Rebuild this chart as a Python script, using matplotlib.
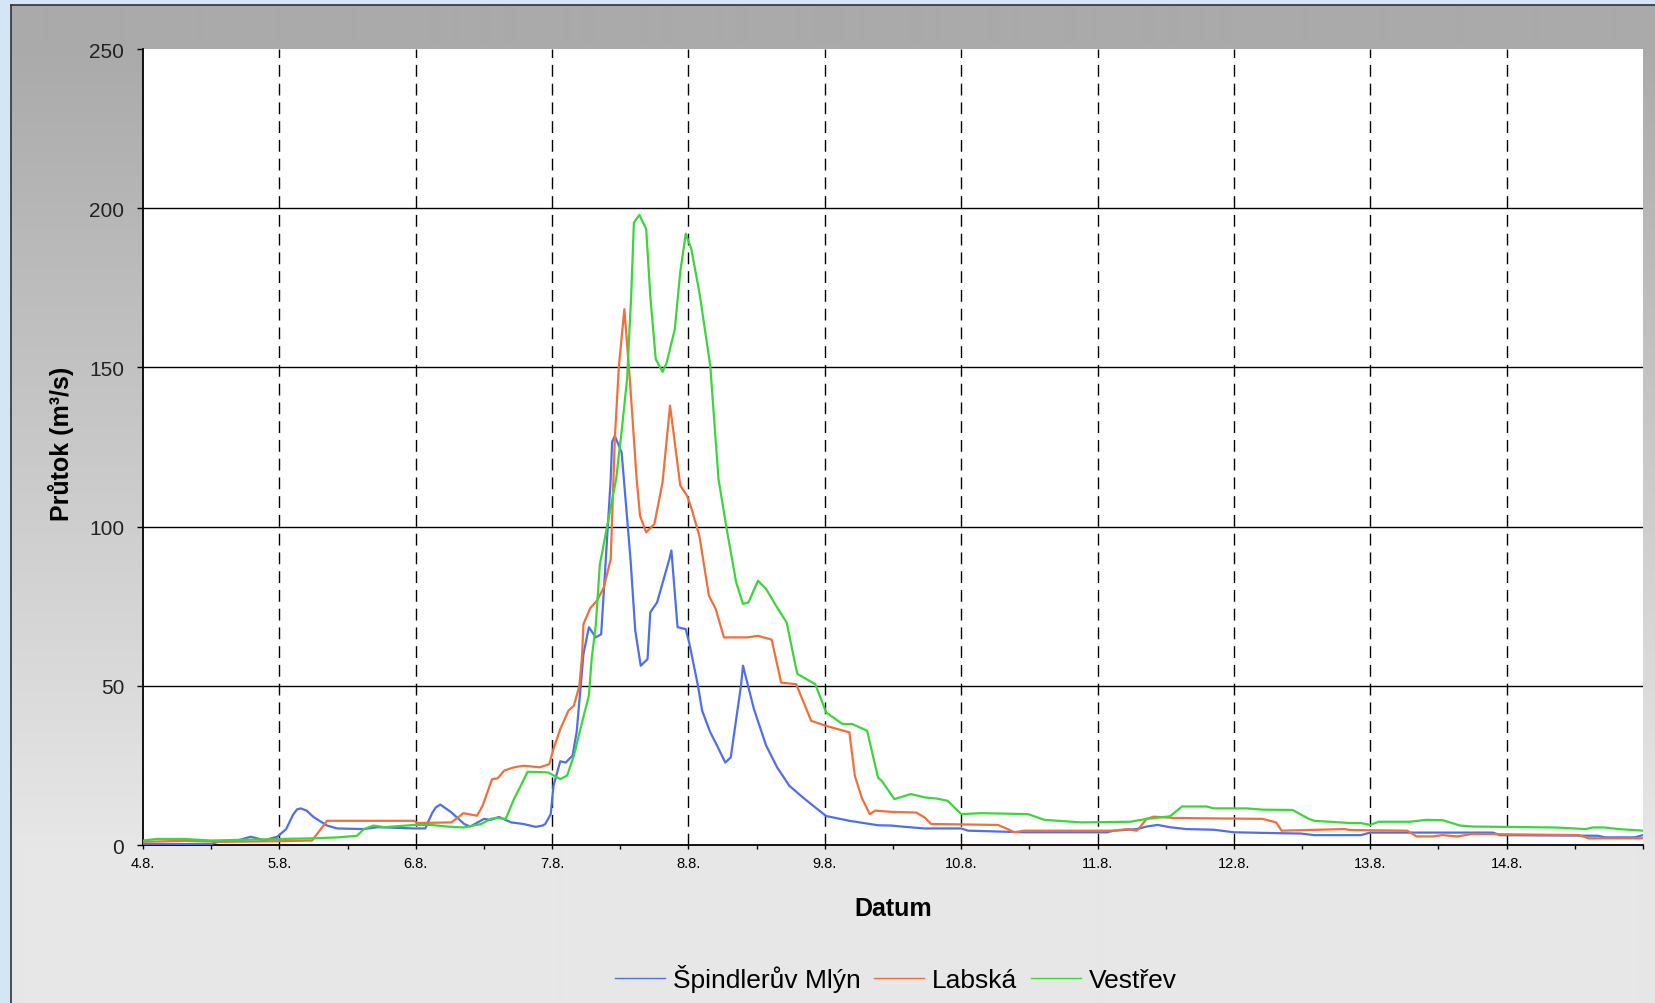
import numpy as np
import matplotlib
matplotlib.use("Agg")
import matplotlib.pyplot as plt
from matplotlib import font_manager

# Hydrograph, flood of August: discharge at three gauges on the upper Labe.
# Time is given as day of August (4.0 = 4.8. 00:00).

spindl_t = [4.00, 4.50, 4.55, 4.70, 4.79, 4.89, 4.985, 5.05, 5.10, 5.13, 5.156, 5.20,
            5.25, 5.35, 5.425, 5.62, 5.72, 5.99, 6.07, 6.12, 6.147, 6.18, 6.22, 6.26,
            6.355, 6.40, 6.50, 6.55, 6.61, 6.70, 6.79, 6.88, 6.93, 6.95, 6.99, 7.01,
            7.06, 7.10, 7.15, 7.18, 7.21, 7.23, 7.27, 7.32, 7.36, 7.40, 7.43, 7.44,
            7.46, 7.51, 7.575, 7.61, 7.65, 7.70, 7.72, 7.77, 7.86, 7.875, 7.92, 7.98,
            8.005, 8.07, 8.10, 8.16, 8.21, 8.27, 8.31, 8.385, 8.40, 8.48, 8.57, 8.65,
            8.74, 8.84, 8.93, 9.01, 9.18, 9.39, 9.49, 9.56, 9.73, 10.00, 10.05, 10.46,
            11.07, 11.12, 11.29, 11.36, 11.44, 11.53, 11.65, 11.85, 12.00, 12.34, 12.49,
            12.59, 12.93, 13.00, 13.90, 13.95, 14.67, 14.72, 14.94, 15.00]
spindl_q = [0.3, 0.3, 1.0, 1.5, 2.6, 1.5, 2.6, 5.0, 9.5, 11.2, 11.5, 10.8,
            8.8, 6.1, 5.2, 5.0, 5.6, 5.2, 5.2, 10.0, 11.8, 12.7, 11.5, 10.3,
            6.6, 5.8, 8.2, 7.9, 8.8, 7.1, 6.6, 5.7, 6.1, 6.6, 9.7, 18.6,
            26.3, 25.9, 28.1, 35.4, 50.0, 60.0, 68.4, 65.2, 66.2, 94.0, 115.0, 126.6,
            128.5, 123.3, 89.8, 67.3, 56.3, 58.4, 73.1, 76.2, 89.8, 92.5, 68.4, 67.8,
            63.6, 50.0, 42.2, 35.4, 31.2, 25.9, 27.5, 50.0, 56.3, 42.7, 31.2, 24.4,
            18.6, 14.9, 11.8, 9.1, 7.6, 6.2, 6.1, 5.8, 5.2, 5.2, 4.5, 4.0,
            4.0, 4.5, 5.0, 5.8, 6.3, 5.6, 5.0, 4.8, 4.0, 3.7, 3.6,
            3.1, 3.1, 3.9, 3.9, 3.1, 2.9, 2.4, 2.4, 3.1]

labska_t = [4.00, 4.30, 4.60, 5.00, 5.24, 5.35, 5.99, 6.01, 6.26, 6.32, 6.35, 6.45,
            6.49, 6.56, 6.60, 6.65, 6.72, 6.79, 6.84, 6.91, 6.98, 7.01, 7.06, 7.12,
            7.16, 7.20, 7.22, 7.23, 7.28, 7.33, 7.38, 7.43, 7.46, 7.49, 7.53, 7.57,
            7.62, 7.645, 7.69, 7.75, 7.81, 7.865, 7.94, 7.99, 8.02, 8.08, 8.15, 8.20,
            8.26, 8.43, 8.51, 8.61, 8.68, 8.79, 8.90, 9.01, 9.18, 9.22, 9.27, 9.33,
            9.37, 9.49, 9.67, 9.73, 9.78, 10.27, 10.34, 10.39, 10.46, 11.12, 11.22,
            11.29, 11.36, 11.41, 11.56, 12.21, 12.31, 12.35, 12.81, 12.85, 13.27, 13.34,
            13.46, 13.53, 13.64, 13.75, 14.53, 14.60, 15.00]
labska_q = [1.0, 1.3, 1.0, 1.2, 1.4, 7.6, 7.6, 6.9, 7.1, 9.0, 10.0, 9.2,
            12.3, 20.7, 20.9, 23.4, 24.4, 24.9, 24.7, 24.4, 25.4, 30.2, 36.4, 42.2,
            43.8, 50.0, 59.5, 69.4, 74.4, 76.8, 81.0, 89.8, 127.5, 150.5, 168.3, 146.3,
            115.0, 103.4, 98.2, 100.8, 113.9, 138.0, 112.9, 109.7, 106.0, 97.1, 78.3, 74.1,
            65.2, 65.2, 65.7, 64.5, 51.0, 50.5, 39.0, 37.4, 35.4, 21.8, 14.9, 9.7,
            10.8, 10.4, 10.2, 8.7, 6.6, 6.3, 5.0, 4.0, 4.5, 4.5, 5.0,
            4.5, 8.2, 8.9, 8.5, 8.2, 7.1, 4.5, 5.0, 4.7, 4.5, 2.7,
            2.7, 3.1, 2.7, 3.5, 3.1, 2.1, 2.1]

vestrev_t = [4.00, 4.10, 4.30, 4.50, 4.80, 5.25, 5.43, 5.57, 5.62, 5.69, 5.77, 5.99,
             6.11, 6.23, 6.35, 6.48, 6.55, 6.60, 6.66, 6.72, 6.77, 6.82, 6.97, 7.06,
             7.11, 7.16, 7.22, 7.27, 7.29, 7.32, 7.35, 7.40, 7.47, 7.51, 7.55, 7.58,
             7.60, 7.64, 7.69, 7.72, 7.76, 7.81, 7.84, 7.90, 7.94, 7.98, 8.02, 8.08,
             8.16, 8.22, 8.28, 8.35, 8.40, 8.44, 8.51, 8.57, 8.65, 8.72, 8.79, 8.80,
             8.93, 9.01, 9.13, 9.20, 9.31, 9.39, 9.42, 9.51, 9.63, 9.74, 9.82, 9.90,
             10.00, 10.15, 10.49, 10.61, 10.88, 11.24, 11.36, 11.53, 11.62, 11.80, 11.85,
             12.09, 12.21, 12.43, 12.55, 12.59, 12.85, 12.93, 13.00, 13.06, 13.29, 13.41,
             13.53, 13.66, 13.75, 14.36, 14.58, 14.63, 14.72, 14.82, 15.00]
vestrev_q = [1.4, 1.9, 1.9, 1.4, 1.7, 2.1, 2.4, 2.9, 5.0, 6.1, 5.6, 6.3,
             6.3, 5.8, 5.5, 6.6, 8.2, 8.5, 8.2, 14.4, 18.6, 23.0, 22.8, 20.7,
             21.8, 28.1, 38.6, 46.9, 58.4, 68.9, 88.0, 99.3, 115.0, 130.0, 146.4, 172.5,
             195.5, 197.9, 193.5, 172.5, 152.6, 148.6, 151.5, 162.0, 180.0, 192.0, 187.3, 173.6,
             150.5, 115.0, 99.3, 82.5, 75.7, 76.2, 83.0, 80.4, 74.6, 69.9, 55.3, 53.7,
             50.5, 41.6, 38.0, 38.0, 35.9, 21.2, 20.0, 14.4, 16.0, 14.9, 14.6, 13.9,
             9.7, 10.0, 9.7, 7.9, 7.1, 7.3, 8.2, 9.0, 12.1, 12.1, 11.5,
             11.5, 11.1, 11.0, 8.2, 7.6, 6.9, 6.9, 6.3, 7.3, 7.3, 7.9,
             7.8, 6.1, 5.8, 5.5, 5.0, 5.5, 5.5, 5.0, 4.5]

series_names = ["Špindlerův Mlýn", "Labská", "Vestřev"]
series_colors = ["#4f6fe6", "#f0703c", "#3ad63a"]
day_ticks = list(range(4, 16))
day_labels = [f"{d}.8." for d in range(4, 15)] + [""]
flow_ticks = [0, 50, 100, 150, 200, 250]

W, H = 1656, 1004
plt.rcParams['font.family'] = ['Liberation Sans', 'DejaVu Sans']

# narrow face for the date labels when available
try:
    font_manager.findfont("Liberation Sans Narrow", fallback_to_default=False)
    xtick_font = dict(family="Liberation Sans Narrow", size=12.5)
except ValueError:
    xtick_font = dict(family="Liberation Sans", size=10.5)

fig = plt.figure(figsize=(W / 100, H / 100), dpi=100)
fig.patch.set_facecolor("#d4e6f6")

# panel background: grey vertical gradient with a dark frame line
bg = fig.add_axes([0, 0, 1, 1], zorder=-5)
bg.set_xlim(0, W)
bg.set_ylim(H, 0)
bg.axis("off")
rows = np.arange(6, H)
shade = 170 + (231 - 170) * np.clip((rows - 45) / (850 - 45), 0, 1)
grad = np.repeat((shade / 255.0)[:, None], 3, axis=1)[:, None, :]
bg.imshow(grad, extent=(11, W, H, 6), aspect="auto", interpolation="bilinear")
bg.plot([11, 11], [H, 6], color="#333333", lw=1.2)
bg.plot([11, W], [6, 6], color="#333333", lw=1.2)

ax = fig.add_axes([143 / W, 1 - 846 / H, 1500 / W, 796 / H])
ax.set_facecolor("white")

for t, q, name, c in zip([spindl_t, labska_t, vestrev_t],
                         [spindl_q, labska_q, vestrev_q],
                         series_names, series_colors):
    ax.plot(t, q, color=c, lw=1.6, label=name, zorder=3)

ax.set_xlim(4, 15)
ax.set_ylim(0, 250)

# grid: solid horizontal, dashed vertical at each day
for v in flow_ticks[1:-1]:
    ax.axhline(v, color="black", lw=1.0, zorder=1)
for d in day_ticks[1:-1]:
    ax.axvline(d, color="black", lw=1.0, dashes=(8.5, 5), zorder=1)

ax.set_xticks(day_ticks)
ax.set_xticklabels(day_labels, fontdict=xtick_font)
ax.set_xticks(np.arange(4.5, 15, 1.0), minor=True)
ax.set_yticks(flow_ticks)
ax.tick_params(axis="x", which="both", length=3, width=1, color="black", pad=5)
ax.tick_params(axis="y", length=4.5, width=1, color="black", pad=9,
               labelsize=15, labelcolor="#222222")

for side in ["top", "right"]:
    ax.spines[side].set_visible(False)
for side in ["left", "bottom"]:
    ax.spines[side].set_linewidth(1.3)
    ax.spines[side].set_color("black")

ax.set_ylabel("Průtok (m³/s)", fontsize=18, fontweight="bold")
ax.yaxis.set_label_coords(-0.046, 0.505)
ax.set_xlabel("Datum", fontsize=18, fontweight="bold")
ax.xaxis.set_label_coords(0.5, -0.064)

handles, names = ax.get_legend_handles_labels()
leg = fig.legend(handles, names, loc="center", bbox_to_anchor=(0.541, 0.025),
                 ncol=3, frameon=False, fontsize=19, handlelength=1.9,
                 handletextpad=0.3, columnspacing=0.5)
for h in leg.legend_handles:
    h.set_linewidth(1.0)

fig.savefig("out.png", dpi=100, facecolor=fig.get_facecolor())
